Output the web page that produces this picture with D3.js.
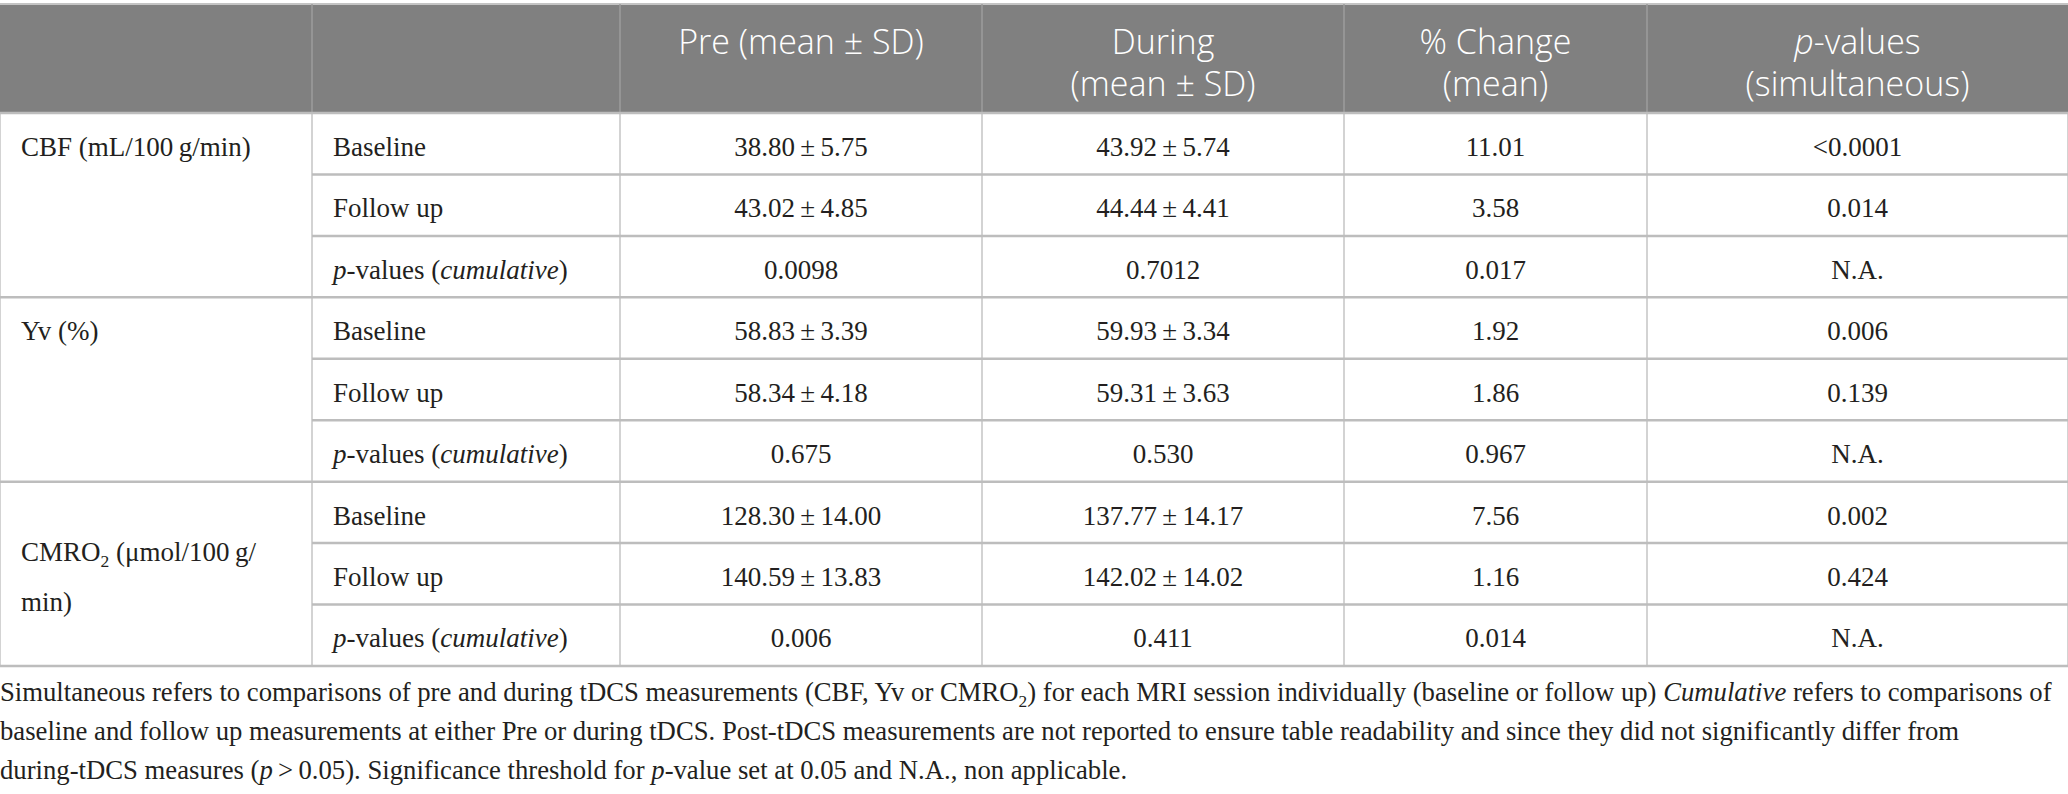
<!DOCTYPE html>
<html>
<head>
<meta charset="utf-8">
<script src="https://cdn.jsdelivr.net/npm/d3@7/dist/d3.min.js"></script>
<style>
  body { margin: 0; background: #fff; }
  svg { display: block; }
  .head { font-family: "Open Sans", "Noto Sans", sans-serif; font-weight: 300; fill: #fff; }
  .cell { font-family: "Liberation Serif", "DejaVu Serif", serif; fill: #231f20; }
</style>
</head>
<body>
<svg id="table" width="2068" height="794"></svg>
<script>
// table content, markup: *..* italic, _x subscript
var headers = [[], [], ["Pre (mean ± SD)"], ["During", "(mean ± SD)"], ["% Change", "(mean)"], ["*p*-values", "(simultaneous)"]];
var measures = [["CBF (mL/100\u2009g/min)"], ["Yv (%)"], ["CMRO_2 (μmol/100\u2009g/", "min)"]];
var sessions = ["Baseline", "Follow up", "*p*-values (*cumulative*)"];
var preMean = [[38.80, 43.02], [58.83, 58.34], [128.30, 140.59]];
var preSD = [[5.75, 4.85], [3.39, 4.18], [14.00, 13.83]];
var duringMean = [[43.92, 44.44], [59.93, 59.31], [137.77, 142.02]];
var duringSD = [[5.74, 4.41], [3.34, 3.63], [14.17, 14.02]];
var pctChange = [[11.01, 3.58], [1.92, 1.86], [7.56, 1.16]];
var pSimultaneous = [["<0.0001", "0.014"], ["0.006", "0.139"], ["0.002", "0.424"]];
var pCumulative = [["0.0098", "0.7012", "0.017"], ["0.675", "0.530", "0.967"], ["0.006", "0.411", "0.014"]];
var caption = [
  "Simultaneous refers to comparisons of pre and during tDCS measurements (CBF, Yv or CMRO_2) for each MRI session individually (baseline or follow up) *Cumulative* refers to comparisons of",
  "baseline and follow up measurements at either Pre or during tDCS. Post-tDCS measurements are not reported to ensure table readability and since they did not significantly differ from",
  "during-tDCS measures (*p*\u2009>\u20090.05). Significance threshold for *p*-value set at 0.05 and N.A., non applicable."
];

var svg = d3.select('#table'),
    colEdges = [0, 312, 620, 982, 1344, 1647, 2068],
    tableTop = 4,
    headBottom = 113,
    tableBottom = 666,
    pad = 21,
    headSize = 34,
    bodySize = 27,
    noteSize = 26.7;

var fmt = d3.format('.2f');
var pm = function(m, s){ return fmt(m) + '\u2009±\u2009' + fmt(s); };

// build the 9 body rows from the arrays
var rows = [];
measures.forEach(function(m, g){
  sessions.forEach(function(s, r){
    var vals;
    if (r < 2) {
      vals = [pm(preMean[g][r], preSD[g][r]), pm(duringMean[g][r], duringSD[g][r]),
              fmt(pctChange[g][r]), pSimultaneous[g][r]];
    } else {
      vals = pCumulative[g].concat(['N.A.']);
    }
    rows.push({group: g, sub: r, label: s, vals: vals});
  });
});

var y = d3.scaleBand().domain(d3.range(rows.length)).range([headBottom, tableBottom]);
var colX = function(i){ return colEdges[i]; };
var colMid = function(i){ return (colEdges[i] + colEdges[i + 1]) / 2; };

// write markup text into a text element
function rich(sel, str, size){
  var parts = str.split(/(\*[^*]+\*|_\d)/).filter(function(d){ return d.length; });
  var sub = false;
  parts.forEach(function(p){
    var t = sel.append('tspan');
    if (sub) { t.attr('dy', -size * 0.22); sub = false; }
    if (p[0] === '*') {
      t.text(p.slice(1, -1)).style('font-style', 'italic');
    } else if (p[0] === '_') {
      t.text(p.slice(1)).attr('font-size', size * 0.65).attr('dy', size * 0.22);
      sub = true;
    } else {
      t.text(p);
    }
  });
}

// header
svg.append('rect')
   .attr('x', 0).attr('y', tableTop)
   .attr('width', colEdges[6]).attr('height', headBottom - tableTop)
   .attr('fill', '#808080');

svg.append('line')
   .attr('x1', 0).attr('x2', colEdges[6])
   .attr('y1', tableTop).attr('y2', tableTop)
   .attr('stroke', '#c4c4c4').attr('stroke-width', 2);

svg.selectAll('.hdiv')
   .data(d3.range(1, 6))
   .enter().append('line')
   .attr('class', 'hdiv')
   .attr('x1', colX).attr('x2', colX)
   .attr('y1', tableTop).attr('y2', headBottom)
   .attr('stroke', '#9c9c9c').attr('stroke-width', 1.5);

headers.forEach(function(lines, i){
  lines.forEach(function(l, k){
    var t = svg.append('text')
       .attr('class', 'head')
       .attr('x', colMid(i))
       .attr('y', 54 + k * 42)
       .attr('text-anchor', 'middle')
       .attr('font-size', headSize);
    rich(t, l, headSize);
  });
});

// grid lines in the body
svg.selectAll('.vline')
   .data(d3.range(0, 7))
   .enter().append('line')
   .attr('class', 'vline')
   .attr('x1', colX).attr('x2', colX)
   .attr('y1', headBottom).attr('y2', tableBottom)
   .attr('stroke', '#c4c4c4').attr('stroke-width', 1.5);

svg.selectAll('.hline')
   .data(d3.range(rows.length + 1))
   .enter().append('line')
   .attr('class', 'hline')
   .attr('x1', function(i){ return (i % 3 === 0) ? 0 : colEdges[1]; })
   .attr('x2', colEdges[6])
   .attr('y1', function(i){ return i < rows.length ? y(i) : tableBottom; })
   .attr('y2', function(i){ return i < rows.length ? y(i) : tableBottom; })
   .attr('stroke', '#bdbdbd').attr('stroke-width', 2.5);

// group labels
measures.forEach(function(lines, g){
  var top = y(g * 3), h = y.bandwidth() * 3,
      start = lines.length === 1 ? top + y.bandwidth() / 2 : top + h / 2 - (lines.length - 1) * 25;
  lines.forEach(function(l, k){
    var t = svg.append('text')
       .attr('class', 'cell')
       .attr('x', pad)
       .attr('y', start + k * 50)
       .attr('dy', '0.45em')
       .attr('font-size', bodySize);
    rich(t, l, bodySize);
  });
});

// body rows
var rowG = svg.selectAll('.row')
   .data(rows)
   .enter().append('g')
   .attr('class', 'row')
   .attr('transform', function(d, i){ return 'translate(0,' + (y(i) + y.bandwidth() / 2) + ')'; });

rowG.each(function(d){
  var g = d3.select(this);
  var t = g.append('text')
     .attr('class', 'cell')
     .attr('x', colEdges[1] + pad)
     .attr('dy', '0.45em')
     .attr('font-size', bodySize);
  rich(t, d.label, bodySize);

  g.selectAll('.val')
   .data(d.vals)
   .enter().append('text')
   .attr('class', 'cell val')
   .attr('x', function(v, j){ return colMid(j + 2); })
   .attr('dy', '0.45em')
   .attr('text-anchor', 'middle')
   .attr('font-size', bodySize)
   .text(function(v){ return v; });
});

// footnote
caption.forEach(function(l, k){
  var t = svg.append('text')
     .attr('class', 'cell')
     .attr('x', 0)
     .attr('y', 701 + k * 39)
     .attr('font-size', noteSize);
  rich(t, l, noteSize);
});
</script>
</body>
</html>
